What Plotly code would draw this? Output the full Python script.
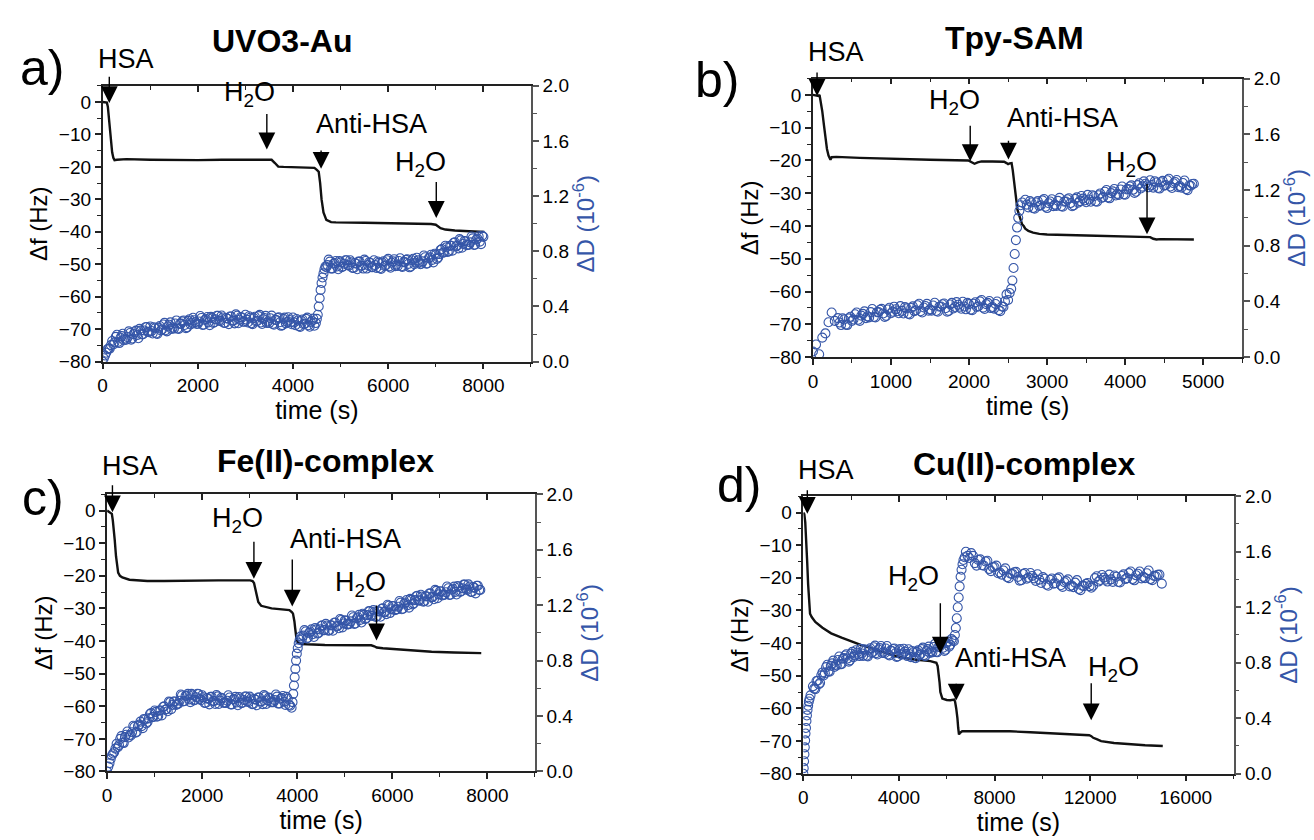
import plotly.graph_objects as go

# ---------------- data ----------------
# Panel a: UVO3-Au  (frequency shift, Hz)
a_f_t = [0, 90, 110, 130, 150, 175, 200, 225, 250, 300, 500, 1000, 1500, 2000, 2500, 3000, 3400, 3550,
         3620, 3690, 3800, 4000, 4300, 4450, 4500, 4540, 4570, 4600, 4640, 4700, 4800, 4900, 5500, 6000,
         6500, 6900, 7000, 7050, 7100, 7200, 7400, 7700, 8020]
a_f_v = [0, -0.2, -1.5, -5, -9, -12.5, -15.5, -17.2, -17.9, -17.8, -17.6, -17.8, -17.9, -17.9, -17.8,
         -17.7, -17.6, -17.8, -18.8, -19.9, -20.0, -20.1, -20.2, -20.3, -20.9, -21.5, -25, -30, -34,
         -36.3, -37.0, -37.1, -37.2, -37.3, -37.4, -37.6, -37.8, -38.4, -38.9, -39.3, -39.6, -39.8, -40.0]
# Panel a dissipation (1e-6): readings and in-between readings of the scatter band
a_d_t = [0, 50, 100, 150, 200, 250, 300, 350, 400, 450, 500, 550, 600, 650, 700, 750, 800, 850, 900, 950,
         1000, 1050, 1100, 1150, 1200, 1250, 1300, 1350, 1400, 1450, 1500, 1550, 1600, 1650, 1700, 1750,
         1800, 1850, 1900, 1950,
         2000, 2050, 2100, 2150, 2200, 2250, 2300, 2350, 2400, 2450, 2500, 2550, 2600, 2650, 2700, 2750,
         2800, 2850, 2900, 2950,
         3000, 3050, 3100, 3150, 3200, 3250, 3300, 3350, 3400, 3450, 3500, 3550, 3600, 3650, 3700, 3750,
         3800, 3850, 3900, 3950,
         4000, 4050, 4100, 4150, 4200, 4250, 4300, 4350, 4400, 4450,
         4480, 4500, 4520, 4540, 4560, 4580, 4600, 4620, 4640, 4660, 4680,
         4700, 4750, 4800, 4850, 4900, 4950, 5000, 5050, 5100, 5150, 5200, 5250, 5300, 5350, 5400, 5450,
         5500, 5550, 5600, 5650,
         5700, 5750, 5800, 5850, 5900, 5950, 6000, 6050, 6100, 6150, 6200, 6250, 6300, 6350, 6400, 6450,
         6500, 6550, 6600, 6650,
         6700, 6750, 6800, 6850, 6900, 6950, 7000, 7050, 7100, 7150, 7200, 7250, 7300, 7350, 7400, 7450,
         7500, 7550, 7600, 7650,
         7700, 7750, 7800, 7850, 7900, 7950, 8000]
a_d_v = [0.00, 0.045, 0.09, 0.095, 0.15, 0.14, 0.195, 0.135, 0.185, 0.155,
         0.16, 0.22, 0.16, 0.20, 0.225, 0.17, 0.225, 0.20, 0.25, 0.217,
         0.255, 0.204, 0.242, 0.201, 0.259, 0.233, 0.281, 0.22, 0.268, 0.237,
         0.24, 0.299, 0.237, 0.276, 0.299, 0.243, 0.296, 0.27, 0.318, 0.287,
         0.275, 0.331, 0.267, 0.303, 0.324, 0.265, 0.316, 0.287, 0.333, 0.299,
         0.335, 0.281, 0.316, 0.272, 0.327, 0.298, 0.343, 0.279, 0.324, 0.29,
         0.34, 0.284, 0.318, 0.272, 0.326, 0.295, 0.339, 0.273, 0.317, 0.281,
         0.28, 0.334, 0.268, 0.302, 0.321, 0.26, 0.309, 0.278, 0.322, 0.286,
         0.32, 0.264, 0.298, 0.252, 0.306, 0.275, 0.319, 0.253, 0.297, 0.261,
         0.28, 0.31, 0.34, 0.40, 0.46, 0.52, 0.57, 0.61, 0.64, 0.67, 0.69,
         0.685, 0.74, 0.675, 0.71, 0.73, 0.67, 0.72, 0.69, 0.735, 0.70,
         0.735, 0.68, 0.715, 0.67, 0.725, 0.695, 0.74, 0.675, 0.72, 0.685,
         0.735, 0.68, 0.716, 0.672, 0.728, 0.699, 0.745, 0.681, 0.727, 0.693,
         0.694, 0.75, 0.686, 0.722, 0.743, 0.684, 0.735, 0.706, 0.753, 0.72,
         0.71, 0.77, 0.71, 0.75, 0.775, 0.72, 0.775, 0.755, 0.81, 0.79,
         0.84, 0.795, 0.84, 0.805, 0.865, 0.84, 0.888, 0.826, 0.875, 0.845,
         0.848, 0.907, 0.846, 0.885, 0.909, 0.852, 0.905]
a_d_t_mid = [25, 75, 125, 175, 225, 275, 325, 375, 425, 475, 525, 575, 625, 675, 725, 775, 825, 875, 925,
             975,
             1025, 1075, 1125, 1175, 1225, 1275, 1325, 1375, 1425, 1475, 1525, 1575, 1625, 1675, 1725, 1775,
             1825, 1875, 1925, 1975,
             2025, 2075, 2125, 2175, 2225, 2275, 2325, 2375, 2425, 2475, 2525, 2575, 2625, 2675, 2725, 2775,
             2825, 2875, 2925, 2975,
             3025, 3075, 3125, 3175, 3225, 3275, 3325, 3375, 3425, 3475, 3525, 3575, 3625, 3675, 3725, 3775,
             3825, 3875, 3925, 3975,
             4025, 4075, 4125, 4175, 4225, 4275, 4325, 4375, 4425,
             4725, 4775, 4825, 4875, 4925, 4975, 5025, 5075, 5125, 5175, 5225, 5275, 5325, 5375, 5425, 5475,
             5525, 5575, 5625, 5675,
             5725, 5775, 5825, 5875, 5925, 5975, 6025, 6075, 6125, 6175, 6225, 6275, 6325, 6375, 6425, 6475,
             6525, 6575, 6625, 6675,
             6725, 6775, 6825, 6875, 6925, 6975, 7025, 7075, 7125, 7175, 7225, 7275, 7325, 7375, 7425, 7475,
             7525, 7575, 7625, 7675,
             7725, 7775, 7825, 7875, 7925, 7975]
a_d_v_mid = [0.025, 0.065, 0.095, 0.12, 0.125, 0.18, 0.143, 0.173, 0.203, 0.168,
             0.178, 0.208, 0.168, 0.213, 0.193, 0.238, 0.198, 0.226, 0.251, 0.214,
             0.222, 0.25, 0.204, 0.247, 0.226, 0.269, 0.228, 0.256, 0.285, 0.248,
             0.277, 0.24, 0.274, 0.292, 0.266, 0.249, 0.308, 0.281, 0.30, 0.273,
             0.291, 0.317, 0.268, 0.309, 0.285, 0.325, 0.281, 0.307, 0.333, 0.294,
             0.32, 0.281, 0.311, 0.327, 0.297, 0.278, 0.333, 0.304, 0.319, 0.29,
             0.305, 0.329, 0.278, 0.317, 0.291, 0.33, 0.284, 0.308, 0.332, 0.291,
             0.315, 0.274, 0.303, 0.317, 0.286, 0.265, 0.319, 0.288, 0.302, 0.271,
             0.285, 0.309, 0.258, 0.297, 0.271, 0.31, 0.264, 0.288, 0.312,
             0.70, 0.725, 0.675, 0.715, 0.69, 0.73, 0.685, 0.71, 0.735, 0.695,
             0.72, 0.68, 0.71, 0.725, 0.695, 0.675, 0.73, 0.70, 0.715, 0.685,
             0.70, 0.726, 0.677, 0.718, 0.694, 0.735, 0.691, 0.717, 0.743, 0.704,
             0.73, 0.691, 0.722, 0.738, 0.709, 0.69, 0.746, 0.717, 0.734, 0.706,
             0.727, 0.757, 0.712, 0.757, 0.737, 0.782, 0.745, 0.78, 0.817, 0.792,
             0.83, 0.80, 0.84, 0.862, 0.837, 0.821, 0.879, 0.853, 0.872, 0.846,
             0.865, 0.894, 0.848, 0.892, 0.87, 0.913]

# Panel b: Tpy-SAM
b_f_t = [0, 40, 70, 85, 100, 120, 140, 160, 180, 200, 215, 225, 240, 300, 600, 1000, 1500, 1990, 2030,
         2070, 2110, 2160, 2300, 2450, 2480, 2500, 2520, 2545, 2560, 2575, 2590, 2605, 2620, 2640, 2660,
         2680, 2700, 2720, 2760, 2820, 2900, 3000, 3500, 4000, 4280, 4320, 4360, 4400, 4450, 4600, 4880]
b_f_v = [0, -0.2, -0.3, 0, -2, -5, -9, -13, -16.5, -18.5, -19.3, -19.8, -19.0, -18.9, -19.2, -19.5,
         -19.8, -20.0, -20.6, -21.0, -20.6, -20.3, -20.3, -20.4, -20.8, -21.1, -20.9, -20.8, -23, -26,
         -30, -33, -35, -36.5, -38, -39.5, -40, -40.8, -41.5, -42, -42.4, -42.6, -42.9, -43.1, -43.2,
         -43.4, -43.9, -44.1, -44.0, -44.0, -44.1]
b_d_t = [0, 40, 80, 120, 160, 200, 240, 280, 320, 360, 400, 440, 480, 520, 560, 600, 640, 680, 720, 760,
         800, 840, 880, 920, 960, 1000, 1040, 1080, 1120, 1160, 1200, 1240, 1280, 1320, 1360, 1400, 1440,
         1480, 1520, 1560, 1600, 1640, 1680, 1720, 1760, 1800, 1840, 1880, 1920, 1960, 2000, 2040, 2080,
         2120, 2160, 2200, 2240, 2280, 2320, 2360, 2400, 2440,
         2460, 2480, 2500, 2520, 2540, 2555, 2570, 2585, 2600, 2615, 2630, 2645, 2660, 2680,
         2720, 2760, 2800, 2840, 2880, 2920, 2960, 3000, 3040, 3080, 3120, 3160, 3200, 3240, 3280, 3320,
         3360, 3400, 3440, 3480, 3520, 3560, 3600, 3640, 3680, 3720, 3760, 3800, 3840, 3880, 3920, 3960,
         4000, 4040, 4080, 4120, 4160, 4200, 4240, 4280, 4320, 4360, 4400, 4440, 4480, 4520, 4560, 4600,
         4640, 4680, 4720, 4760, 4800, 4840, 4880]
b_d_v = [0.04, 0.09, 0.02, 0.14, 0.17, 0.25, 0.32, 0.26,
         0.28, 0.23, 0.27, 0.23, 0.29, 0.27, 0.32, 0.26, 0.31, 0.28,
         0.285, 0.345, 0.285, 0.323, 0.346, 0.289, 0.342, 0.315, 0.362, 0.329,
         0.366, 0.313, 0.35, 0.307, 0.364, 0.336, 0.383, 0.32, 0.367, 0.333,
         0.334, 0.39, 0.326, 0.363, 0.385, 0.326, 0.378, 0.349, 0.395, 0.361,
         0.397, 0.343, 0.38, 0.337, 0.394, 0.365, 0.41, 0.345, 0.389, 0.352,
         0.348, 0.399, 0.33, 0.36,
         0.40, 0.45, 0.41, 0.46, 0.49, 0.55, 0.64, 0.74, 0.84, 0.93, 1.00, 1.05, 1.09, 1.11,
         1.13, 1.075, 1.11, 1.065, 1.12, 1.09, 1.135, 1.07, 1.117, 1.084,
         1.086, 1.143, 1.08, 1.117, 1.14, 1.083, 1.136, 1.109, 1.157, 1.125,
         1.165, 1.115, 1.155, 1.115, 1.175, 1.15, 1.20, 1.14, 1.19, 1.16,
         1.165, 1.225, 1.166, 1.207, 1.233, 1.179, 1.235, 1.211, 1.262, 1.233,
         1.27, 1.217, 1.254, 1.21, 1.265, 1.235, 1.28, 1.214, 1.257, 1.22,
         1.217, 1.268, 1.199, 1.23, 1.245]
b_d_t_mid = [340, 380, 420, 460, 500, 540, 580, 620, 660, 700, 740, 780, 820, 860, 900, 940, 980, 1020,
             1060, 1100, 1140, 1180, 1220, 1260, 1300, 1340, 1380, 1420, 1460, 1500, 1540, 1580, 1620, 1660,
             1700, 1740, 1780, 1820, 1860, 1900, 1940, 1980, 2020, 2060, 2100, 2140, 2180, 2220, 2260, 2300,
             2340, 2380, 2420,
             2740, 2780, 2820, 2860, 2900, 2940, 2980, 3020, 3060, 3100, 3140, 3180, 3220, 3260, 3300, 3340,
             3380, 3420, 3460, 3500, 3540, 3580, 3620, 3660, 3700, 3740, 3780, 3820, 3860, 3900, 3940, 3980,
             4020, 4060, 4100, 4140, 4180, 4220, 4260, 4300, 4340, 4380, 4420, 4460, 4500, 4540, 4580, 4620,
             4660, 4700, 4740, 4780, 4820, 4860]
b_d_v_mid = [0.248, 0.278, 0.233, 0.278, 0.26, 0.308, 0.268, 0.298, 0.328, 0.293,
             0.323, 0.288, 0.322, 0.34, 0.313, 0.296, 0.354, 0.326, 0.343, 0.315,
             0.332, 0.359, 0.311, 0.353, 0.33, 0.372, 0.329, 0.356, 0.382, 0.343,
             0.37, 0.331, 0.362, 0.379, 0.351, 0.332, 0.389, 0.36, 0.376, 0.347,
             0.363, 0.389, 0.341, 0.383, 0.36, 0.40, 0.355, 0.38, 0.403, 0.36,
             0.381, 0.337, 0.363,
             1.095, 1.12, 1.07, 1.11, 1.085, 1.125, 1.08, 1.105, 1.133, 1.095,
             1.122, 1.084, 1.116, 1.133, 1.106, 1.089, 1.147, 1.12, 1.138, 1.112,
             1.132, 1.162, 1.117, 1.162, 1.142, 1.187, 1.147, 1.177, 1.207, 1.172,
             1.203, 1.168, 1.204, 1.225, 1.201, 1.187, 1.248, 1.224, 1.245, 1.219,
             1.236, 1.263, 1.214, 1.255, 1.23, 1.27, 1.225, 1.248, 1.271, 1.228,
             1.25, 1.206, 1.232, 1.243]

# Panel c: Fe(II)-complex
c_f_t = [0, 60, 100, 120, 135, 160, 187, 210, 232, 270, 320, 470, 845, 1200, 1590, 2340, 3010, 3060,
         3090, 3110, 3125, 3150, 3180, 3240, 3350, 3460, 3835, 3870, 3890, 3910, 3925, 3940, 3955, 3970,
         3985, 4020, 4100, 4210, 4580, 5330, 5555, 5620, 5670, 5800, 6080, 6500, 6825, 7300, 7870]
c_f_v = [0, -0.5, -1, -3, -5, -9, -14, -17, -19, -20, -20.5, -21.2, -21.6, -21.6, -21.5, -21.4, -21.4,
         -21.6, -22.2, -23.5, -25, -26.8, -28, -29.2, -29.7, -30.0, -30.5, -30.8, -31.2, -31.6, -32.5,
         -34, -36, -38, -39.5, -40.5, -40.9, -41.0, -41.2, -41.3, -41.3, -41.6, -42.0, -42.2, -42.5,
         -42.9, -43.3, -43.5, -43.7]
c_d_t = [0, 50, 100, 150, 200, 250, 300, 350, 400, 450, 500, 550, 600, 650, 700, 750, 800, 850, 900, 950,
         1000, 1050, 1100, 1150, 1200, 1250, 1300, 1350, 1400, 1450, 1500, 1550, 1600, 1650, 1700, 1750,
         1800, 1850, 1900, 1950,
         2000, 2050, 2100, 2150, 2200, 2250, 2300, 2350, 2400, 2450, 2500, 2550, 2600, 2650, 2700, 2750,
         2800, 2850, 2900, 2950,
         3000, 3050, 3100, 3150, 3200, 3250, 3300, 3350, 3400, 3450, 3500, 3550, 3600, 3650, 3700, 3750,
         3800, 3850,
         3880, 3900, 3915, 3930, 3945, 3960, 3975, 3990, 4010, 4030, 4050, 4075,
         4100, 4150, 4200, 4250, 4300, 4350, 4400, 4450, 4500, 4550,
         4600, 4650, 4700, 4750, 4800, 4850, 4900, 4950, 5000, 5050, 5100, 5150, 5200, 5250, 5300, 5350,
         5400, 5450, 5500, 5550,
         5600, 5650, 5700, 5750, 5800, 5850, 5900, 5950, 6000, 6050, 6100, 6150, 6200, 6250, 6300, 6350,
         6400, 6450, 6500, 6550,
         6600, 6650, 6700, 6750, 6800, 6850, 6900, 6950, 7000, 7050, 7100, 7150, 7200, 7250, 7300, 7350,
         7400, 7450, 7500, 7550,
         7600, 7650, 7700, 7750, 7800, 7850]
c_d_v = [0.0, 0.06, 0.115, 0.14, 0.20, 0.19, 0.255, 0.205, 0.265, 0.245,
         0.26, 0.33, 0.28, 0.327, 0.36, 0.313, 0.375, 0.357, 0.415, 0.392,
         0.44, 0.395, 0.44, 0.405, 0.47, 0.45, 0.505, 0.45, 0.505, 0.48,
         0.49, 0.555, 0.505, 0.545, 0.56, 0.50, 0.55, 0.517, 0.56, 0.523,
         0.55, 0.495, 0.529, 0.484, 0.538, 0.508, 0.552, 0.487, 0.531, 0.496,
         0.495, 0.55, 0.484, 0.519, 0.538, 0.478, 0.527, 0.497, 0.541, 0.506,
         0.54, 0.486, 0.522, 0.478, 0.534, 0.505, 0.551, 0.487, 0.533, 0.499,
         0.50, 0.555, 0.49, 0.525, 0.545, 0.48, 0.525, 0.475,
         0.46, 0.50, 0.56, 0.62, 0.68, 0.74, 0.80, 0.85, 0.89, 0.925, 0.95, 0.975,
         0.96, 1.02, 0.96, 1.0, 1.025, 0.97, 1.025, 1.0, 1.05, 1.02,
         1.065, 1.015, 1.055, 1.015, 1.075, 1.05, 1.10, 1.04, 1.09, 1.06,
         1.065, 1.125, 1.065, 1.105, 1.13, 1.075, 1.13, 1.105, 1.155, 1.125,
         1.165, 1.115, 1.156, 1.116, 1.177, 1.152, 1.203, 1.143, 1.194, 1.164,
         1.17, 1.23, 1.171, 1.211, 1.237, 1.182, 1.238, 1.213, 1.264, 1.235,
         1.275, 1.225, 1.265, 1.225, 1.285, 1.26, 1.31, 1.25, 1.30, 1.27,
         1.275, 1.335, 1.273, 1.311, 1.334, 1.277, 1.329, 1.301, 1.348, 1.315,
         1.35, 1.295, 1.33, 1.285, 1.34, 1.31]
c_d_t_mid = [25, 75, 125, 175, 225, 275, 325, 375, 425, 475, 525, 575, 625, 675, 725, 775, 825, 875, 925,
             975, 1025, 1075, 1125, 1175, 1225, 1275, 1325, 1375, 1425, 1475, 1525, 1575, 1625, 1675, 1725,
             1775, 1825, 1875, 1925, 1975, 2025, 2075, 2125, 2175, 2225, 2275, 2325, 2375, 2425, 2475, 2525,
             2575, 2625, 2675, 2725, 2775, 2825, 2875, 2925, 2975, 3025, 3075, 3125, 3175, 3225, 3275, 3325,
             3375, 3425, 3475, 3525, 3575, 3625, 3675, 3725, 3775, 3825,
             4125, 4175, 4225, 4275, 4325, 4375, 4425, 4475, 4525, 4575, 4625, 4675, 4725, 4775, 4825, 4875,
             4925, 4975, 5025, 5075, 5125, 5175, 5225, 5275, 5325, 5375, 5425, 5475, 5525, 5575, 5625, 5675,
             5725, 5775, 5825, 5875, 5925, 5975, 6025, 6075, 6125, 6175, 6225, 6275, 6325, 6375, 6425, 6475,
             6525, 6575, 6625, 6675, 6725, 6775, 6825, 6875, 6925, 6975, 7025, 7075, 7125, 7175, 7225, 7275,
             7325, 7375, 7425, 7475, 7525, 7575, 7625, 7675, 7725, 7775, 7825]
c_d_v_mid = [0.035, 0.09, 0.13, 0.165, 0.175, 0.235, 0.208, 0.248, 0.288, 0.263,
             0.283, 0.323, 0.286, 0.338, 0.327, 0.379, 0.346, 0.383, 0.421, 0.394,
             0.43, 0.40, 0.44, 0.465, 0.445, 0.435, 0.50, 0.48, 0.505, 0.485,
             0.51, 0.548, 0.508, 0.548, 0.52, 0.56, 0.513, 0.536, 0.559, 0.515,
             0.535, 0.494, 0.524, 0.538, 0.508, 0.487, 0.542, 0.511, 0.526, 0.495,
             0.51, 0.534, 0.484, 0.523, 0.498, 0.537, 0.492, 0.516, 0.541, 0.50,
             0.526, 0.487, 0.518, 0.534, 0.505, 0.486, 0.542, 0.513, 0.529, 0.50,
             0.515, 0.54, 0.49, 0.53, 0.503, 0.538, 0.48,
             0.98, 1.01, 0.965, 1.01, 0.99, 1.035, 0.995, 1.025, 1.055, 1.02,
             1.053, 1.018, 1.053, 1.073, 1.048, 1.033, 1.093, 1.068, 1.088, 1.063,
             1.083, 1.113, 1.068, 1.113, 1.093, 1.138, 1.098, 1.128, 1.158, 1.123,
             1.153, 1.118, 1.154, 1.174, 1.15, 1.135, 1.196, 1.171, 1.192, 1.167,
             1.188, 1.218, 1.174, 1.219, 1.20, 1.245, 1.206, 1.236, 1.267, 1.233,
             1.263, 1.228, 1.263, 1.283, 1.258, 1.243, 1.303, 1.278, 1.298, 1.273,
             1.293, 1.322, 1.275, 1.318, 1.296, 1.338, 1.295, 1.322, 1.349, 1.31,
             1.335, 1.295, 1.325, 1.34, 1.31]

# Panel d: Cu(II)-complex
d_f_t = [0, 40, 80, 120, 160, 200, 240, 280, 350, 500, 800, 1163, 1600, 1994, 2400, 2825, 3200, 3655,
         4200, 4652, 5317, 5566, 5620, 5660, 5700, 5733, 5780, 5816, 6000, 6148, 6314, 6350, 6397, 6430,
         6447, 6480, 6513, 6550, 6646, 7810, 8640, 9500, 10300, 11100, 11963, 12050, 12130, 12300,
         12460, 13000, 13625, 14300, 15040]
d_f_v = [0, -0.5, -3, -8, -15, -22, -28, -31, -32, -33.5, -35.3, -37, -38.3, -39.5, -40.5, -41.5, -42.5,
         -43.5, -44.5, -45, -45.5, -46, -47, -49, -52, -55, -56.5, -57, -57.4, -57.5, -57.3, -58, -60,
         -61.5, -63, -66, -68, -67.5, -67, -67, -67, -67.3, -67.6, -67.9, -68.2, -68.5, -69, -69.5, -70,
         -70.6, -71, -71.3, -71.5]
d_d_t = [0, 15, 30, 45, 60, 75, 90, 110, 130, 150, 175, 200, 230, 260, 300,
         400, 500, 600, 700, 800, 900, 1000, 1100, 1200, 1300,
         1400, 1500, 1600, 1700, 1800, 1900, 2000, 2100, 2200, 2300,
         2400, 2500, 2600, 2700, 2800, 2900, 3000, 3100, 3200, 3300,
         3400, 3500, 3600, 3700, 3800, 3900, 4000, 4100, 4200, 4300,
         4400, 4500, 4600, 4700, 4800, 4900, 5000, 5100, 5200, 5300,
         5400, 5500, 5600, 5700, 5800, 5900, 6000, 6100, 6200, 6300,
         6340, 6380, 6420, 6460, 6500, 6540, 6580, 6620, 6660, 6700, 6750,
         6800, 6950, 7100, 7250, 7400, 7550, 7700, 7850, 8000, 8150,
         8300, 8450, 8600, 8750, 8900, 9050, 9200, 9350, 9500, 9650,
         9800, 9950, 10100, 10250, 10400, 10550, 10700, 10850, 11000, 11150,
         11300, 11450, 11600, 11750, 11900, 12050, 12200, 12350, 12500, 12650,
         12800, 12950, 13100, 13250, 13400, 13550, 13700, 13850, 14000, 14150,
         14300, 14450, 14600, 14750, 14900, 15000]
d_d_v = [0.0, 0.04, 0.09, 0.14, 0.19, 0.24, 0.29, 0.33, 0.38, 0.42, 0.46, 0.49, 0.52, 0.54, 0.565,
         0.63, 0.61, 0.67, 0.655, 0.73, 0.725, 0.785, 0.735, 0.795, 0.77,
         0.78, 0.845, 0.79, 0.833, 0.861, 0.808, 0.865, 0.84, 0.89, 0.86,
         0.90, 0.849, 0.888, 0.846, 0.904, 0.876, 0.923, 0.859, 0.905, 0.87,
         0.868, 0.92, 0.853, 0.885, 0.903, 0.842, 0.89, 0.858, 0.901, 0.864,
         0.897, 0.84, 0.875, 0.832, 0.889, 0.861, 0.909, 0.848, 0.898, 0.87,
         0.875, 0.935, 0.875, 0.915, 0.94, 0.885, 0.94, 0.915, 0.97, 0.955,
         1.00, 1.05, 1.12, 1.20, 1.27, 1.35, 1.42, 1.47, 1.51, 1.54, 1.56,
         1.60, 1.555, 1.57, 1.50, 1.545, 1.50, 1.535, 1.46, 1.49, 1.445,
         1.435, 1.48, 1.41, 1.44, 1.455, 1.392, 1.439, 1.405, 1.447, 1.408,
         1.438, 1.375, 1.405, 1.355, 1.407, 1.373, 1.415, 1.347, 1.388, 1.35,
         1.345, 1.395, 1.323, 1.352, 1.375, 1.34, 1.41, 1.385, 1.432, 1.399,
         1.435, 1.383, 1.42, 1.379, 1.437, 1.41, 1.457, 1.394, 1.441, 1.408,
         1.41, 1.465, 1.395, 1.423, 1.435, 1.37]
d_d_t_mid = [450, 550, 650, 750, 850, 950, 1050, 1150, 1250, 1350, 1450, 1550, 1650, 1750, 1850, 1950,
             2050, 2150, 2250, 2350, 2450, 2550, 2650, 2750, 2850, 2950, 3050, 3150, 3250, 3350, 3450, 3550,
             3650, 3750, 3850, 3950, 4050, 4150, 4250, 4350, 4450, 4550, 4650, 4750, 4850, 4950, 5050, 5150,
             5250, 5350, 5450, 5550, 5650, 5750, 5850, 5950, 6050, 6150, 6250,
             6875, 7025, 7175, 7325, 7475, 7625, 7775, 7925, 8075, 8225, 8375, 8525, 8675, 8825, 8975, 9125,
             9275, 9425, 9575, 9725, 9875, 10025, 10175, 10325, 10475, 10625, 10775, 10925, 11075, 11225,
             11375, 11525, 11675, 11825, 11975, 12125, 12275, 12425, 12575, 12725, 12875, 13025, 13175,
             13325, 13475, 13625, 13775, 13925, 14075, 14225, 14375, 14525, 14675, 14825]
d_d_v_mid = [0.613, 0.668, 0.645, 0.71, 0.708, 0.768, 0.738, 0.778, 0.815, 0.785,
             0.82, 0.79, 0.829, 0.852, 0.83, 0.817, 0.878, 0.853, 0.873, 0.848,
             0.867, 0.896, 0.85, 0.893, 0.87, 0.912, 0.869, 0.895, 0.92, 0.879,
             0.902, 0.859, 0.887, 0.899, 0.868, 0.846, 0.899, 0.867, 0.88, 0.848,
             0.861, 0.885, 0.836, 0.878, 0.855, 0.898, 0.856, 0.885, 0.916, 0.883,
             0.913, 0.878, 0.913, 0.933, 0.908, 0.893, 0.953, 0.93, 0.96,
             1.57, 1.59, 1.518, 1.54, 1.503, 1.53, 1.475, 1.488, 1.50, 1.45,
             1.465, 1.417, 1.442, 1.452, 1.418, 1.395, 1.447, 1.413, 1.425, 1.39,
             1.399, 1.417, 1.362, 1.398, 1.37, 1.406, 1.358, 1.38, 1.401, 1.357,
             1.377, 1.331, 1.355, 1.368, 1.352, 1.355, 1.423, 1.396, 1.413, 1.385,
             1.401, 1.429, 1.382, 1.425, 1.403, 1.446, 1.403, 1.43, 1.457, 1.419,
             1.445, 1.403, 1.426, 1.434]

titles = ["UVO3-Au", "Tpy-SAM", "Fe(II)-complex", "Cu(II)-complex"]
letters = ["a)", "b)", "c)", "d)"]
x_ranges = [[0, 9000], [0, 5500], [0, 9000], [0, 18000]]
x_dticks = [2000, 1000, 2000, 4000]

# event labels: (text, text_x, text_y, arrow_x, arrow_y_start, arrow_y_end) in data units
events = [
    [("HSA", 500, 11.5, 140, 8.0, -0.3), ("H<sub>2</sub>O", 3095, 0.8, 3450, -3.5, -14.6),
     ("Anti-HSA", 5650, -8.6, 4590, -14.6, -20.6), ("H<sub>2</sub>O", 6676, -20.8, 7010, -24.5, -35.7)],
    [("HSA", 293, 11.3, 53, 7.1, -0.3), ("H<sub>2</sub>O", 1812, -4.0, 2015, -9.2, -20.2),
     ("Anti-HSA", 3198, -8.9, 2505, -13.7, -19.7), ("H<sub>2</sub>O", 4078, -22.8, 4280, -27.1, -42.5)],
    [("HSA", 486, 11.8, 112, 8.0, -0.5), ("H<sub>2</sub>O", 2751, -4.6, 3088, -9.4, -20.9),
     ("Anti-HSA", 5010, -10.4, 3895, -14.9, -29.4), ("H<sub>2</sub>O", 5330, -24.2, 5667, -28.9, -39.8)],
    [("HSA", 930, 11.1, 166, 7.1, -0.4), ("H<sub>2</sub>O", 4602, -21.9, 5732, -27.7, -43.2),
     ("Anti-HSA", 8672, -46.4, 6397, -52.1, -57.6), ("H<sub>2</sub>O", 12992, -49.7, 12046, -52.1, -63.6)],
]

panel_data = [(a_f_t, a_f_v, a_d_t + a_d_t_mid, a_d_v + a_d_v_mid),
              (b_f_t, b_f_v, b_d_t + b_d_t_mid, b_d_v + b_d_v_mid),
              (c_f_t, c_f_v, c_d_t + c_d_t_mid, c_d_v + c_d_v_mid),
              (d_f_t, d_f_v, d_d_t + d_d_t_mid, d_d_v + d_d_v_mid)]

# ---------------- layout geometry (pixels) ----------------
W, H = 1314, 840
boxes = [(98, 528, 77.7, 360.7), (811, 1242, 70.3, 356), (102.5, 532, 496.7, 781), (801.4, 1233.2, 498.7, 783.3)]
letter_pos = [(37, 60), (715, 72), (38, 500), (737, 487)]
title_pos = [(278, 32), (1013, 29), (322, 463), (1023, 466)]
Y_RANGE = [-80, 5]
TEXT_LIFT = 6  # px: label boxes include subscript/descender room

FONT = "Liberation Sans, Arial, sans-serif"
BLUE = "#3556A8"
AX = "#222222"


def to_paper(i, x, y, lift=0):
    x0, x1, y0, y1 = boxes[i]
    px = x0 + (x - x_ranges[i][0]) / (x_ranges[i][1] - x_ranges[i][0]) * (x1 - x0)
    py = y1 - (y - Y_RANGE[0]) / (Y_RANGE[1] - Y_RANGE[0]) * (y1 - y0) - lift
    return px / W, 1 - py / H


fig = go.Figure()
layout = dict(width=W, height=H, margin=dict(l=0, r=0, t=0, b=0), paper_bgcolor="white",
              plot_bgcolor="white", showlegend=False, font=dict(family=FONT, color="black", size=19))
annotations = []

for i in range(4):
    xb, xt = f"x{2*i+1}", f"x{2*i+2}"
    yl, yr = f"y{2*i+1}", f"y{2*i+2}"
    xb_k, xt_k = f"xaxis{2*i+1}", f"xaxis{2*i+2}"
    yl_k, yr_k = f"yaxis{2*i+1}", f"yaxis{2*i+2}"
    x0, x1, y0, y1 = boxes[i]
    dom_x = [x0 / W, x1 / W]
    dom_y = [1 - y1 / H, 1 - y0 / H]
    ft, fv, dt, dv = panel_data[i]

    fig.add_trace(go.Scatter(x=ft, y=fv, xaxis=xb, yaxis=yl, mode="lines",
                             line=dict(color="#111111", width=2.4), hoverinfo="skip"))
    fig.add_trace(go.Scatter(x=dt, y=dv, xaxis=xb, yaxis=yr, mode="markers",
                             marker=dict(symbol="circle-open", size=9, color=BLUE,
                                         line=dict(width=1.1, color=BLUE)), hoverinfo="skip"))
    fig.add_trace(go.Scatter(x=[], y=[], xaxis=xt, yaxis=yl, hoverinfo="skip"))

    dtk = x_dticks[i]
    layout[xb_k] = dict(domain=dom_x, anchor=yl, range=x_ranges[i], dtick=dtk, tick0=0, tickformat="d",
                        showline=True, linecolor=AX, linewidth=1.5, ticks="outside", ticklen=6,
                        tickwidth=1.5, tickcolor=AX, showgrid=False, zeroline=False,
                        tickfont=dict(size=19, family=FONT),
                        minor=dict(dtick=dtk / 2, ticks="outside", ticklen=4, tickcolor=AX, tickwidth=1.3),
                        title=dict(text="time (s)", font=dict(size=25, family=FONT), standoff=0))
    layout[xt_k] = dict(overlaying=xb, anchor=yl, side="top", range=x_ranges[i], dtick=dtk, tick0=0,
                        showline=True, linecolor=AX, linewidth=1.5, ticks="inside", ticklen=6,
                        tickwidth=1.5, tickcolor=AX, showgrid=False, zeroline=False,
                        showticklabels=False,
                        minor=dict(dtick=dtk / 2, ticks="inside", ticklen=4, tickcolor=AX, tickwidth=1.3))
    layout[yl_k] = dict(domain=dom_y, anchor=xb, range=Y_RANGE, dtick=10, tick0=0,
                        showline=True, linecolor=AX, linewidth=1.5, ticks="outside", ticklen=6,
                        tickwidth=1.5, tickcolor=AX, showgrid=False, zeroline=False,
                        tickfont=dict(size=19, family=FONT),
                        minor=dict(dtick=5, ticks="outside", ticklen=4, tickcolor=AX, tickwidth=1.3),
                        title=dict(text="Δf (Hz)", font=dict(size=24, family=FONT), standoff=4))
    layout[yr_k] = dict(overlaying=yl, anchor=xb, side="right", range=[0, 2.0], dtick=0.4, tick0=0,
                        tickformat=".1f", showline=True, linecolor="#555555", linewidth=1.5,
                        ticks="outside", ticklen=6, tickwidth=1.5, tickcolor="#555555",
                        showgrid=False, zeroline=False, tickfont=dict(size=19, family=FONT),
                        minor=dict(dtick=0.2, ticks="outside", ticklen=4, tickcolor="#555555", tickwidth=1.3),
                        title=dict(text="ΔD (10<sup>-6</sup>)", font=dict(size=24, family=FONT, color=BLUE),
                                   standoff=6))

    lx, ly = letter_pos[i]
    annotations.append(dict(xref="paper", yref="paper", x=lx / W, y=1 - ly / H, text=letters[i],
                            showarrow=False, font=dict(size=50, family=FONT), xanchor="center",
                            yanchor="middle"))
    tx, ty = title_pos[i]
    annotations.append(dict(xref="paper", yref="paper", x=tx / W, y=1 - ty / H, text=f"<b>{titles[i]}</b>",
                            showarrow=False, font=dict(size=32, family=FONT), xanchor="center",
                            yanchor="middle"))
    for (txt, tx_, ty_, ax_, ay0, ay1) in events[i]:
        px_, py_ = to_paper(i, tx_, ty_, TEXT_LIFT)
        annotations.append(dict(xref="paper", yref="paper", x=px_, y=py_, text=txt, showarrow=False,
                                font=dict(size=27, family=FONT), xanchor="center", yanchor="middle"))
        hx, hy = to_paper(i, ax_, ay1)
        sx, sy = to_paper(i, ax_, ay0)
        annotations.append(dict(xref="paper", yref="paper", axref="pixel", ayref="pixel",
                                x=hx, y=hy, ax=0, ay=-(sy - hy) * H,
                                text="", showarrow=True, arrowhead=2, arrowsize=2.4, arrowwidth=1.4,
                                arrowcolor="black", standoff=0, startstandoff=0))

layout["annotations"] = annotations
fig.update_layout(**layout)
fig.write_html("out.html")
